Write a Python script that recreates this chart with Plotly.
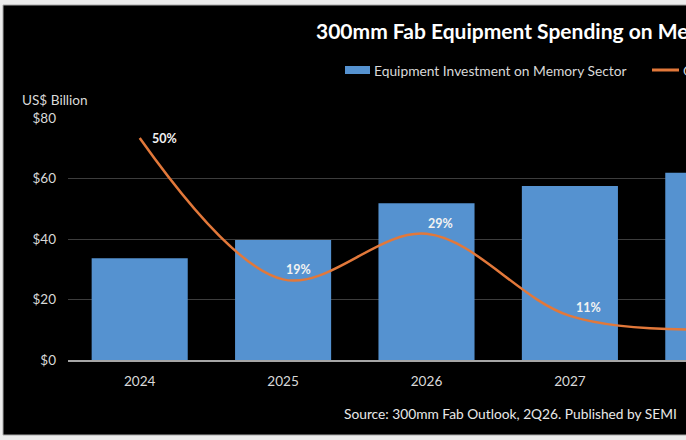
import plotly.graph_objects as go

# ---- data ----
years = ["2024", "2025", "2026", "2027", "2028"]
investment = [33.6, 39.7, 51.8, 57.5, 61.9]          # US$ Billion
growth = [50, 19, 29, 11, 8]                           # %
growth_labels = ["50%", "19%", "29%", "11%", "8%"]
y_ticks = [0, 20, 40, 60, 80]
y_tick_text = ["$0", "$20", "$40", "$60", "$80"]

# ---- layout geometry (pixels) ----
W, H = 686, 440
ML, MR, MT, MB = 68, 0, 118, 80
PW, PH = W - ML - MR, H - MT - MB


def X(px):
    return (px - ML) / PW


def Y(py):
    return (H - MB - py) / PH


BLUE = "#5592D0"
ORANGE = "#E2783A"
FONT = "Lato"
TXT = "#d9d9d9"

fig = go.Figure()
fig.add_trace(go.Bar(
    x=years, y=investment, marker=dict(color=BLUE, line=dict(width=0)),
    name="Equipment Investment on Memory Sector", showlegend=False,
))
fig.add_trace(go.Scatter(
    x=years, y=growth, yaxis="y2", mode="lines",
    line=dict(color=ORANGE, width=2.5, shape="spline", smoothing=1.0),
    name="Growth Rate", showlegend=False,
))

# data labels for growth line (offsets are styling); x given as category index
label_offsets = [(25, 0), (15, 10), (14, 10), (19, 8), (16, 8)]
annotations = []
for i, (g, t, (dx, dy)) in enumerate(zip(growth, growth_labels, label_offsets)):
    annotations.append(dict(
        x=i, y=g, xref="x", yref="y2", text="<b>" + t + "</b>", showarrow=False,
        xshift=dx, yshift=dy, font=dict(family=FONT, size=12.5, color="#f2f2f2"),
    ))

annotations += [
    dict(x=X(314), y=Y(30), xref="paper", yref="paper", xanchor="left", yanchor="middle",
         text="<b>300mm Fab Equipment Spending on Memory Sector</b>", showarrow=False,
         font=dict(family=FONT, size=21, color="#ffffff")),
    dict(x=X(372), y=Y(70), xref="paper", yref="paper", xanchor="left", yanchor="middle",
         text="Equipment Investment on Memory Sector", showarrow=False,
         font=dict(family=FONT, size=13.8, color=TXT)),
    dict(x=X(681), y=Y(70), xref="paper", yref="paper", xanchor="left", yanchor="middle",
         text="Growth Rate", showarrow=False,
         font=dict(family=FONT, size=13.8, color=TXT)),
    dict(x=X(20), y=Y(100), xref="paper", yref="paper", xanchor="left", yanchor="middle",
         text="US$ Billion", showarrow=False,
         font=dict(family=FONT, size=13.6, color=TXT)),
    dict(x=X(679), y=Y(413), xref="paper", yref="paper", xanchor="right", yanchor="middle",
         text="Source: 300mm Fab Outlook, 2Q26. Published by SEMI", showarrow=False,
         font=dict(family=FONT, size=13.75, color="#e8e8e8")),
]

shapes = [
    dict(type="rect", xref="paper", yref="paper", x0=X(3), x1=X(700), y0=Y(435), y1=Y(5),
         fillcolor="#000000", line=dict(color="#a8a8a8", width=1), layer="below"),
    dict(type="rect", xref="paper", yref="paper", x0=X(345), x1=X(370), y0=Y(74), y1=Y(66),
         fillcolor=BLUE, line=dict(width=0)),
    dict(type="line", xref="paper", yref="paper", x0=X(652), x1=X(679), y0=Y(70), y1=Y(70),
         line=dict(color=ORANGE, width=3)),
]

fig.update_layout(
    width=W, height=H, margin=dict(l=ML, r=MR, t=MT, b=MB, pad=0),
    paper_bgcolor="#ececec", plot_bgcolor="#000000",
    bargap=0.33, showlegend=False,
    annotations=annotations, shapes=shapes,
    xaxis=dict(
        type="category", range=[-0.5, -0.5 + PW / 143.4],
        showgrid=False, showline=True, linecolor="#a6a6a6", linewidth=1.5,
        ticks="", tickfont=dict(family=FONT, size=13.6, color=TXT), ticklabelstandoff=8,
        fixedrange=True,
    ),
    yaxis=dict(
        range=[0, 80], tickvals=y_ticks, ticktext=y_tick_text,
        showgrid=True, gridcolor="#3d3d3d", gridwidth=1, zeroline=False,
        tickfont=dict(family=FONT, size=13.5, color=TXT), ticklabelstandoff=11,
        fixedrange=True,
    ),
    yaxis2=dict(
        overlaying="y", side="right", range=[1.32, 54.4],
        showgrid=False, zeroline=False, showline=False, showticklabels=False, ticks="",
        fixedrange=True,
    ),
)

fig.write_html("out.html")
